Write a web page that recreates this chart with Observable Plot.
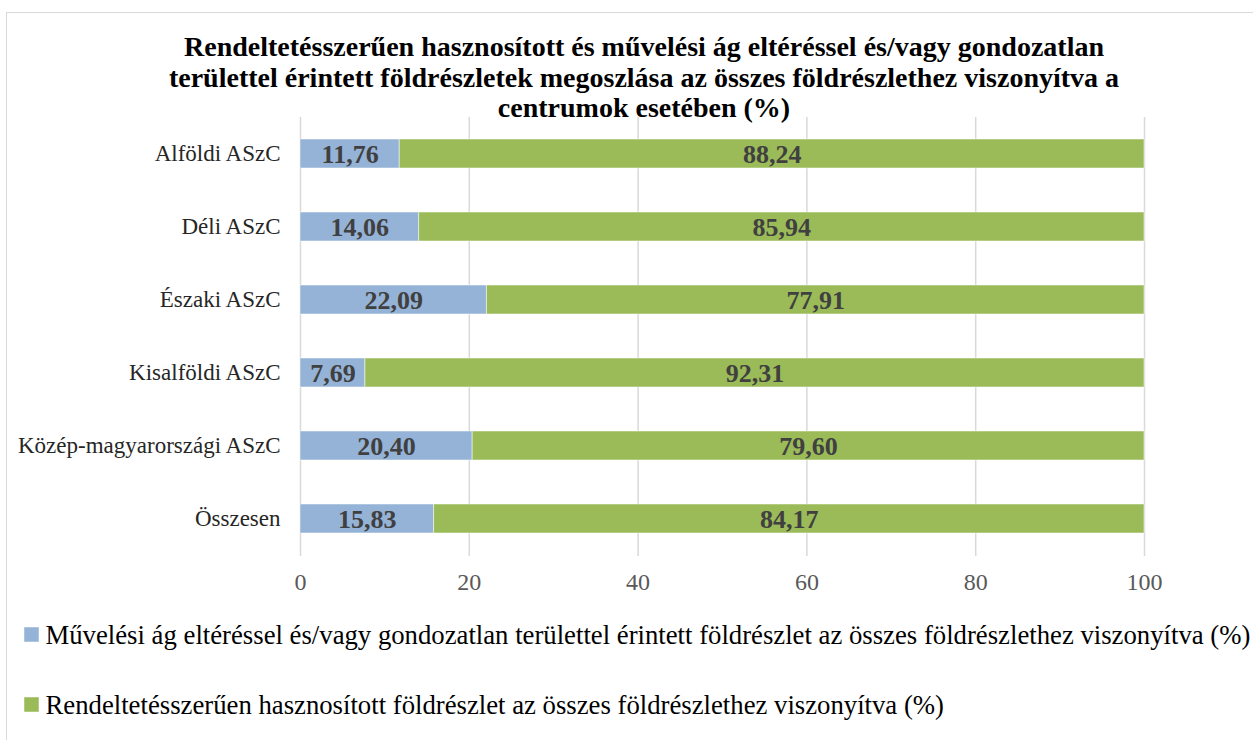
<!DOCTYPE html>
<html>
<head>
<meta charset="utf-8">
<script src="https://cdn.jsdelivr.net/npm/d3@7"></script>
<script src="https://cdn.jsdelivr.net/npm/@observablehq/plot@0.6"></script>
<style>
  html, body { margin: 0; padding: 0; background: #fff; }
  body { width: 1253px; height: 740px; position: relative; overflow: hidden; }
  #frame { position: absolute; left: 6px; top: 12px; width: 1260px; height: 760px; border: 1.5px solid #d9d9d9; box-sizing: border-box; }
  #chart { position: absolute; left: 0; top: 0; }
</style>
</head>
<body>
<div id="frame"></div>
<div id="chart"></div>
<script>
const titleLines = [
  "Rendeltetésszerűen hasznosított és művelési ág eltéréssel és/vagy gondozatlan",
  "területtel érintett földrészletek megoszlása az összes földrészlethez viszonyítva a",
  "centrumok esetében (%)"
];
const categories = ["Alföldi ASzC", "Déli ASzC", "Északi ASzC", "Kisalföldi ASzC", "Közép-magyarországi ASzC", "Összesen"];
const seriesNames = [
  "Művelési ág eltéréssel és/vagy gondozatlan területtel érintett földrészlet az összes földrészlethez viszonyítva (%)",
  "Rendeltetésszerűen hasznosított földrészlet az összes földrészlethez viszonyítva (%)"
];
const seriesColors = ["#95b3d7", "#9bbb59"];
const blueValues = [11.76, 14.06, 22.09, 7.69, 20.40, 15.83];
const greenValues = [88.24, 85.94, 77.91, 92.31, 79.60, 84.17];
const xTicks = [0, 20, 40, 60, 80, 100];

const FONT = "Liberation Serif";

// text helpers: long strings split into short word groups, measured, laid out in sequence
const ctx = document.createElement("canvas").getContext("2d");
function measure(t, size, weight) {
  ctx.font = `${weight} ${size}px "${FONT}"`;
  return ctx.measureText(t).width;
}
function chunk(line, maxLen = 22) {
  const words = line.split(" ");
  const out = [];
  let cur = "";
  for (const w of words) {
    const cand = cur ? cur + " " + w : w;
    if (cand.length > maxLen && cur) { out.push(cur + " "); cur = w; }
    else cur = cand;
  }
  out.push(cur);
  return out;
}
function lineWidth(line, size, weight) {
  return chunk(line).reduce((s, c) => s + measure(c, size, weight), 0);
}
function clamp(v, a, b) { return Math.max(a, Math.min(b, v)); }

// layout (pixels)
const W = 1253, H = 740;
const mLeft = 300, mRight = 109, mTop = 117, mBottom = 184;

// Title marks (positioned relative to the frame's top-left corner)
const titleSize = clamp(26 * 937 / lineWidth(titleLines[0], 26, "bold"), 20, 28);
const titleCenterX = 643.5 - mLeft;
const titleCenterY = [47, 77.5, 108].map(y => y - mTop);
const titleMarks = [];
titleLines.forEach((line, i) => {
  const parts = chunk(line);
  const widths = parts.map(p => measure(p, titleSize, "bold"));
  const total = d3.sum(widths);
  let cum = 0;
  parts.forEach((p, k) => {
    titleMarks.push(Plot.text([p], {
      frameAnchor: "top-left", textAnchor: "start", lineAnchor: "middle",
      dx: titleCenterX - total / 2 + cum, dy: titleCenterY[i], text: d => d,
      fontFamily: FONT, fontSize: titleSize, fontWeight: "bold", fill: "#000"
    }));
    cum += widths[k];
  });
});

// Legend marks
const legendSize = clamp(26 * 1205 / lineWidth(seriesNames[0], 26, "normal"), 20, 27);
const legendRowY = [635, 705].map(y => y - mTop);
const legendMarks = [];
seriesNames.forEach((name, i) => {
  legendMarks.push(Plot.dot([name], {
    frameAnchor: "top-left", dx: 31 - mLeft, dy: legendRowY[i] - 1,
    symbol: "square", r: 8.2, fill: seriesColors[i], stroke: null
  }));
  const parts = chunk(name);
  let cum = 0;
  parts.forEach(p => {
    legendMarks.push(Plot.text([p], {
      frameAnchor: "top-left", textAnchor: "start", lineAnchor: "middle",
      dx: 45 - mLeft + cum, dy: legendRowY[i], text: d => d,
      fontFamily: FONT, fontSize: legendSize, fill: "#000"
    }));
    cum += measure(p, legendSize, "normal");
  });
});

const data = [];
categories.forEach((c, i) => {
  data.push({cat: c, series: seriesNames[0], value: blueValues[i]});
  data.push({cat: c, series: seriesNames[1], value: greenValues[i]});
});
const fmt = v => v.toFixed(2).replace(".", ",");

const chart = Plot.plot({
  width: W,
  height: H,
  marginLeft: mLeft,
  marginRight: mRight,
  marginTop: mTop,
  marginBottom: mBottom,
  style: {fontFamily: FONT, background: "transparent", overflow: "visible"},
  x: {domain: [0, 100], ticks: xTicks, label: null, tickSize: 0},
  y: {domain: categories, label: null, tickSize: 0, paddingInner: 0.6, paddingOuter: 0.3},
  color: {domain: seriesNames, range: seriesColors},
  marks: [
    Plot.gridX(xTicks, {stroke: "#d9d9d9", strokeOpacity: 1, strokeWidth: 1.5}),
    Plot.barX(data, Plot.stackX({x: "value", y: "cat", fill: "series", order: seriesNames, stroke: "#ffffff", strokeOpacity: 0.5, strokeWidth: 1})),
    Plot.text(data, Plot.stackX({x: "value", y: "cat", z: "series", order: seriesNames, text: d => fmt(d.value), fill: "#404040", fontFamily: FONT, fontWeight: "bold", fontSize: 26, dy: 1})),
    Plot.axisX({ticks: xTicks, tickSize: 0, tickPadding: 16, fontFamily: FONT, fontSize: 24, color: "#595959", label: null}),
    Plot.axisY({tickSize: 0, tickPadding: 20, fontFamily: FONT, fontSize: 23, color: "#262626", label: null}),
    ...titleMarks,
    ...legendMarks
  ]
});
document.getElementById("chart").appendChild(chart);
</script>
</body>
</html>
